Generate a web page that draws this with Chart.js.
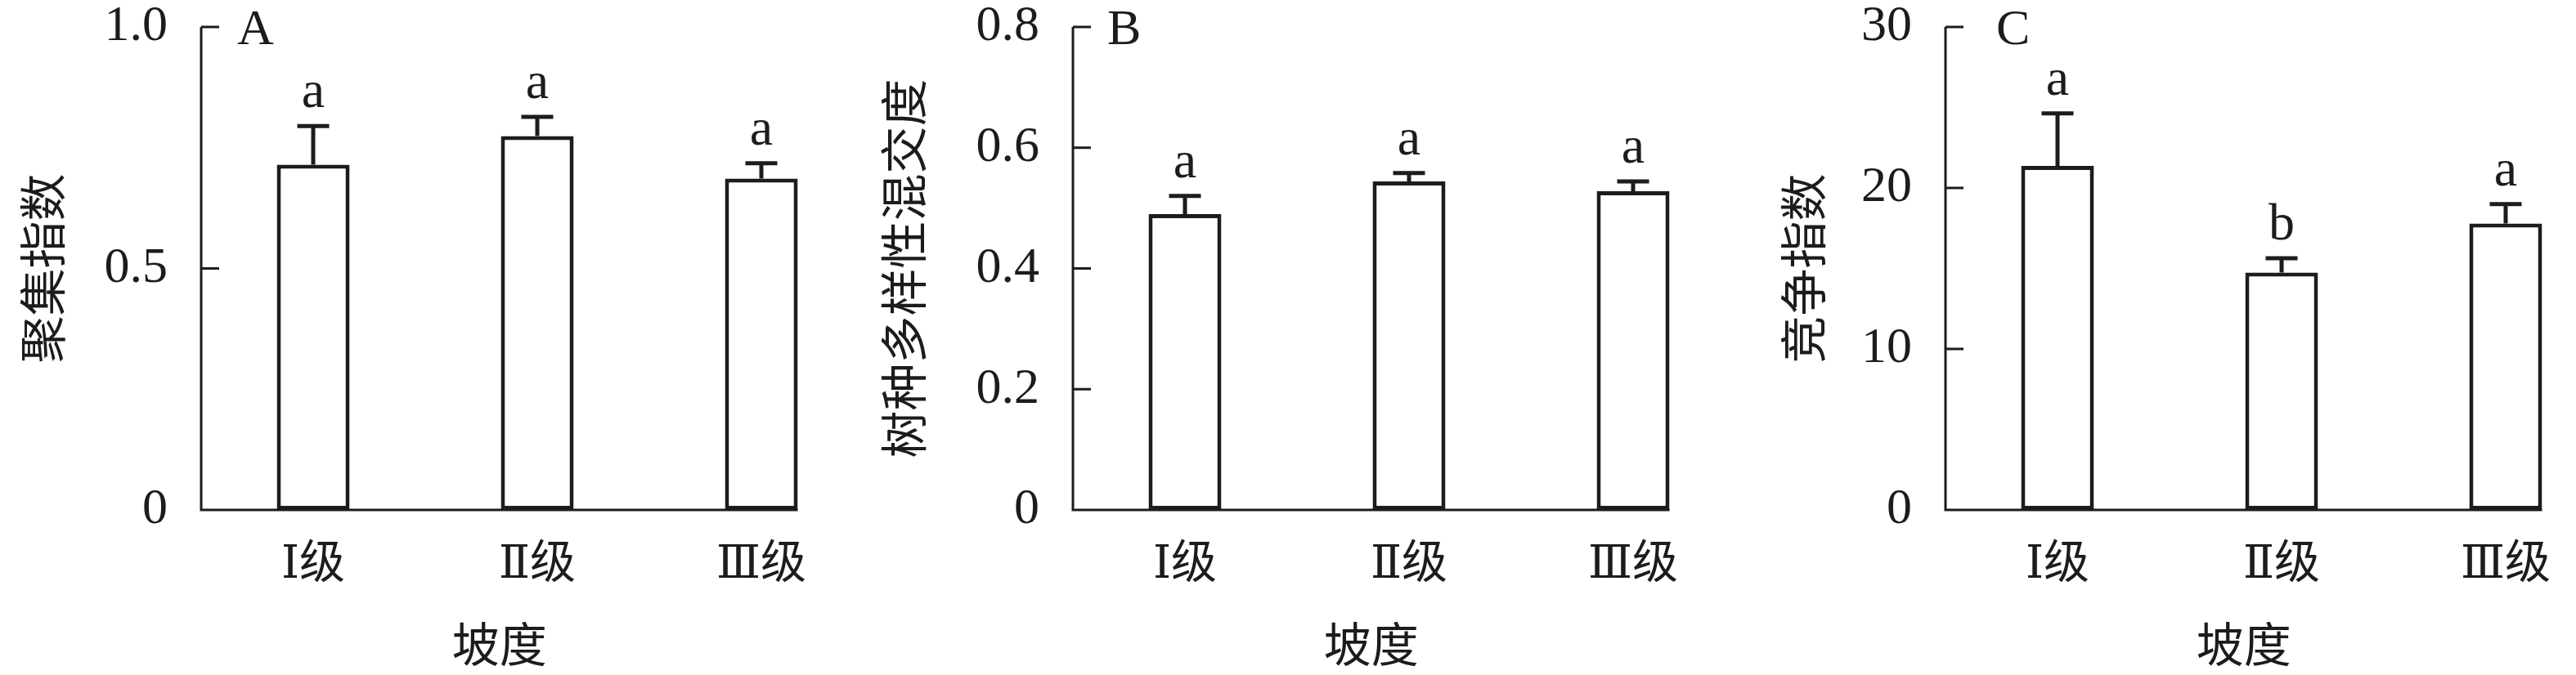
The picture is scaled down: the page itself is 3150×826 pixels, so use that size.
<!DOCTYPE html>
<html>
<head>
<meta charset="utf-8">
<script src="https://cdn.jsdelivr.net/npm/chart.js@4.4.0/dist/chart.umd.min.js"></script>
<style>
  html, body { margin: 0; padding: 0; background: #fff; overflow: hidden; width: 3150px; height: 826px; }
  canvas { position: absolute; top: 0; }
</style>
</head>
<body>
<canvas id="chart-a" width="1068" height="826" style="left:0px"></canvas>
<canvas id="chart-b" width="1068" height="826" style="left:1066px"></canvas>
<canvas id="chart-c" width="1068" height="826" style="left:2133px"></canvas>
<script>
// slope classes
const slopeLabels = ['Ⅰ级', 'Ⅱ级', 'Ⅲ级'];

// A - aggregation index
const aggMeans = [0.715, 0.774, 0.686];
const aggErrors = [0.080, 0.040, 0.032];
const aggLetters = ['a', 'a', 'a'];
const aggTicks = [0, 0.5, 1.0];
const aggTickLabels = ['0', '0.5', '1.0'];

// B - species mingling
const mixMeans = [0.490, 0.544, 0.528];
const mixErrors = [0.030, 0.014, 0.016];
const mixLetters = ['a', 'a', 'a'];
const mixTicks = [0, 0.2, 0.4, 0.6, 0.8];
const mixTickLabels = ['0', '0.2', '0.4', '0.6', '0.8'];

// C - competition index
const compMeans = [21.37, 14.75, 17.79];
const compErrors = [3.26, 0.88, 1.21];
const compLetters = ['a', 'b', 'a'];
const compTicks = [0, 10, 20, 30];
const compTickLabels = ['0', '10', '20', '30'];

const ink = '#1c1c1c';
const serif = '"Liberation Serif", "DejaVu Serif", "Noto Sans CJK SC", serif';

// axes with inward ticks, one-sided error bars, letters, panel tag, x title
const panelDecor = {
    id: 'panelDecor',
    afterDatasetsDraw(chart, args, opts) {
        const { ctx, chartArea, scales: { y } } = chart;
        const ds = chart.data.datasets[0];
        const bars = chart.getDatasetMeta(0).data;
        const last = bars[bars.length - 1];
        const axisRight = last.x + last.width / 2;
        const left = chartArea.left;
        const bottom = chartArea.bottom;

        ctx.save();
        ctx.strokeStyle = ink;
        ctx.fillStyle = ink;

        ctx.lineWidth = 3;
        ctx.beginPath();
        ctx.moveTo(left, chartArea.top);
        ctx.lineTo(left, bottom);
        ctx.lineTo(axisRight, bottom);
        y.ticks.forEach(t => {
            const py = y.getPixelForValue(t.value);
            ctx.moveTo(left, py);
            ctx.lineTo(left + 22, py);
        });
        ctx.stroke();

        ctx.lineWidth = 5;
        ctx.font = '64px ' + serif;
        ctx.textAlign = 'center';
        ctx.textBaseline = 'alphabetic';
        bars.forEach((bar, i) => {
            const top = y.getPixelForValue(ds.data[i] + ds.errors[i]);
            ctx.beginPath();
            ctx.moveTo(bar.x, bar.y);
            ctx.lineTo(bar.x, top);
            ctx.moveTo(bar.x - 19.5, top);
            ctx.lineTo(bar.x + 19.5, top);
            ctx.stroke();
            ctx.fillText(ds.letters[i], bar.x, top - 23);
        });

        ctx.font = '62px ' + serif;
        ctx.textAlign = 'left';
        ctx.fillText(opts.letter, left + opts.letterDx, chartArea.top + 21);

        ctx.font = '58px ' + serif;
        ctx.textAlign = 'center';
        ctx.textBaseline = 'middle';
        ctx.fillText(opts.xTitle, (left + axisRight) / 2, 795);
        ctx.restore();
    }
};

function buildPanel(id, p) {
    return new Chart(document.getElementById(id), {
        type: 'bar',
        data: {
            labels: slopeLabels,
            datasets: [{
                data: p.means,
                errors: p.errors,
                letters: p.letters,
                backgroundColor: '#fff',
                borderColor: ink,
                borderWidth: 5,
                borderSkipped: false,
                barPercentage: 89 / 274,
                categoryPercentage: 1
            }]
        },
        options: {
            responsive: false,
            animation: false,
            devicePixelRatio: 1,
            layout: { padding: { top: 33, left: 0, right: 0, bottom: 0 } },
            plugins: {
                legend: { display: false },
                tooltip: { enabled: false },
                panelDecor: { letter: p.letter, letterDx: p.letterDx, xTitle: '坡度' }
            },
            scales: {
                x: {
                    offset: true,
                    grid: { display: false, drawTicks: true, tickLength: 40 },
                    border: { display: false },
                    ticks: {
                        color: ink,
                        padding: 0,
                        font: { family: serif, size: 56, lineHeight: 1 }
                    },
                    afterFit: s => { s.height = 202; }
                },
                y: {
                    min: 0,
                    max: p.ticks[p.ticks.length - 1],
                    grid: { display: false, drawTicks: true, tickLength: 41 },
                    border: { display: false },
                    afterBuildTicks: s => { s.ticks = p.ticks.map(v => ({ value: v })); },
                    ticks: {
                        color: ink,
                        padding: 0,
                        font: { family: serif, size: 62, lineHeight: 1 },
                        callback: (v, i) => p.tickLabels[i]
                    },
                    title: {
                        display: true,
                        text: p.yTitle,
                        color: ink,
                        padding: { top: p.yTitlePad, bottom: 0 },
                        font: { family: serif, size: 58, lineHeight: 1 }
                    },
                    afterFit: s => { s.width = 246; }
                }
            }
        },
        plugins: [panelDecor]
    });
}

buildPanel('chart-a', {
    means: aggMeans, errors: aggErrors, letters: aggLetters,
    ticks: aggTicks, tickLabels: aggTickLabels,
    yTitle: '聚集指数', yTitlePad: 30, letter: 'A', letterDx: 44
});
buildPanel('chart-b', {
    means: mixMeans, errors: mixErrors, letters: mixLetters,
    ticks: mixTicks, tickLabels: mixTickLabels,
    yTitle: '树种多样性混交度', yTitlePad: 17, letter: 'B', letterDx: 42
});
buildPanel('chart-c', {
    means: compMeans, errors: compErrors, letters: compLetters,
    ticks: compTicks, tickLabels: compTickLabels,
    yTitle: '竞争指数', yTitlePad: 50, letter: 'C', letterDx: 62
});
</script>
</body>
</html>
